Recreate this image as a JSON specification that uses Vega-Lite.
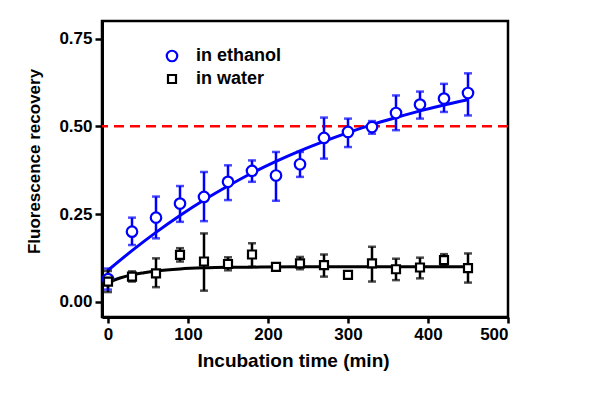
{
  "$schema": "https://vega.github.io/schema/vega-lite/v6.json",
  "width": 406,
  "height": 296,
  "autosize": {"type": "none"},
  "padding": {"left": 102, "top": 21, "right": 92, "bottom": 79},
  "background": "white",
  "config": {
    "font": "Liberation Sans",
    "view": {"stroke": "black", "strokeWidth": 2.5},
    "axis": {
      "domainColor": "black", "domainWidth": 3, "tickColor": "black", "tickWidth": 2.5,
      "grid": false, "labelFont": "Liberation Sans", "labelFontWeight": "bold", "labelFontSize": 17,
      "labelColor": "black", "titleFont": "Liberation Sans", "titleFontWeight": "bold",
      "titleFontSize": 17, "titleColor": "black"
    },
    "legend": {"labelFont": "Liberation Sans", "labelFontSize": 18, "labelFontWeight": "bold", "labelLimit": 300}
  },
  "datasets": {
    "pts": [
      {"series": "in ethanol", "t": 0, "y": 0.065, "lo": 0.035, "hi": 0.095},
      {"series": "in ethanol", "t": 30, "y": 0.200, "lo": 0.162, "hi": 0.240},
      {"series": "in ethanol", "t": 60, "y": 0.240, "lo": 0.181, "hi": 0.300},
      {"series": "in ethanol", "t": 90, "y": 0.280, "lo": 0.228, "hi": 0.330},
      {"series": "in ethanol", "t": 120, "y": 0.299, "lo": 0.230, "hi": 0.370},
      {"series": "in ethanol", "t": 150, "y": 0.342, "lo": 0.290, "hi": 0.389},
      {"series": "in ethanol", "t": 180, "y": 0.373, "lo": 0.342, "hi": 0.403},
      {"series": "in ethanol", "t": 210, "y": 0.360, "lo": 0.288, "hi": 0.427},
      {"series": "in ethanol", "t": 240, "y": 0.392, "lo": 0.356, "hi": 0.427},
      {"series": "in ethanol", "t": 270, "y": 0.467, "lo": 0.408, "hi": 0.525},
      {"series": "in ethanol", "t": 300, "y": 0.484, "lo": 0.441, "hi": 0.522},
      {"series": "in ethanol", "t": 330, "y": 0.498, "lo": 0.479, "hi": 0.515},
      {"series": "in ethanol", "t": 360, "y": 0.538, "lo": 0.489, "hi": 0.588},
      {"series": "in ethanol", "t": 390, "y": 0.562, "lo": 0.522, "hi": 0.599},
      {"series": "in ethanol", "t": 420, "y": 0.579, "lo": 0.541, "hi": 0.621},
      {"series": "in ethanol", "t": 450, "y": 0.595, "lo": 0.531, "hi": 0.651},
      {"series": "in water", "t": 0, "y": 0.058, "lo": 0.028, "hi": 0.088},
      {"series": "in water", "t": 30, "y": 0.072, "lo": 0.058, "hi": 0.087},
      {"series": "in water", "t": 60, "y": 0.081, "lo": 0.042, "hi": 0.124},
      {"series": "in water", "t": 90, "y": 0.134, "lo": 0.115, "hi": 0.153},
      {"series": "in water", "t": 120, "y": 0.115, "lo": 0.032, "hi": 0.195},
      {"series": "in water", "t": 150, "y": 0.108, "lo": 0.090, "hi": 0.127},
      {"series": "in water", "t": 180, "y": 0.135, "lo": 0.100, "hi": 0.167},
      {"series": "in water", "t": 210, "y": 0.100, "lo": 0.092, "hi": 0.108},
      {"series": "in water", "t": 240, "y": 0.110, "lo": 0.093, "hi": 0.128},
      {"series": "in water", "t": 270, "y": 0.105, "lo": 0.072, "hi": 0.135},
      {"series": "in water", "t": 300, "y": 0.077, "lo": 0.070, "hi": 0.084},
      {"series": "in water", "t": 330, "y": 0.110, "lo": 0.058, "hi": 0.157},
      {"series": "in water", "t": 360, "y": 0.093, "lo": 0.062, "hi": 0.123},
      {"series": "in water", "t": 390, "y": 0.098, "lo": 0.067, "hi": 0.126},
      {"series": "in water", "t": 420, "y": 0.119, "lo": 0.102, "hi": 0.136},
      {"series": "in water", "t": 450, "y": 0.096, "lo": 0.055, "hi": 0.138}
    ],
    "fit": [
      {"series": "in ethanol", "t": 0, "y": 0.090},
      {"series": "in ethanol", "t": 30, "y": 0.146},
      {"series": "in ethanol", "t": 60, "y": 0.198},
      {"series": "in ethanol", "t": 90, "y": 0.246},
      {"series": "in ethanol", "t": 120, "y": 0.290},
      {"series": "in ethanol", "t": 150, "y": 0.330},
      {"series": "in ethanol", "t": 180, "y": 0.367},
      {"series": "in ethanol", "t": 210, "y": 0.400},
      {"series": "in ethanol", "t": 240, "y": 0.430},
      {"series": "in ethanol", "t": 270, "y": 0.457},
      {"series": "in ethanol", "t": 300, "y": 0.482},
      {"series": "in ethanol", "t": 330, "y": 0.505},
      {"series": "in ethanol", "t": 360, "y": 0.525},
      {"series": "in ethanol", "t": 390, "y": 0.544},
      {"series": "in ethanol", "t": 420, "y": 0.561},
      {"series": "in ethanol", "t": 450, "y": 0.576},
      {"series": "in water", "t": 0, "y": 0.055},
      {"series": "in water", "t": 15, "y": 0.068},
      {"series": "in water", "t": 30, "y": 0.077},
      {"series": "in water", "t": 45, "y": 0.083},
      {"series": "in water", "t": 60, "y": 0.088},
      {"series": "in water", "t": 90, "y": 0.094},
      {"series": "in water", "t": 120, "y": 0.097},
      {"series": "in water", "t": 150, "y": 0.0985},
      {"series": "in water", "t": 180, "y": 0.099},
      {"series": "in water", "t": 240, "y": 0.0998},
      {"series": "in water", "t": 300, "y": 0.100},
      {"series": "in water", "t": 450, "y": 0.100}
    ],
    "ref": [{"y": 0.5}]
  },
  "layer": [
    {
      "data": {"name": "ref"},
      "mark": {"type": "rule", "color": "#ff0000", "strokeWidth": 2.5, "strokeDash": [10, 6]},
      "encoding": {
        "y": {"field": "y", "type": "quantitative", "scale": {"domain": [-0.043, 0.8], "nice": false, "zero": false},
          "axis": {"values": [0, 0.25, 0.5, 0.75], "format": ".2f", "tickSize": 7, "labelPadding": 3, "title": "Fluorescence recovery", "titlePadding": 15, "titleY": 140}}
      }
    },
    {
      "data": {"name": "fit"},
      "mark": {"type": "line", "strokeWidth": 3, "interpolate": "monotone"},
      "encoding": {
        "x": {"field": "t", "type": "quantitative", "scale": {"domain": [-7.5, 500], "nice": false, "zero": false},
          "axis": {"values": [0, 100, 200, 300, 400, 500], "tickSize": 6, "labelPadding": 3, "title": "Incubation time (min)", "titleFontSize": 19, "titlePadding": 9, "titleX": 191}},
        "y": {"field": "y", "type": "quantitative"},
        "detail": {"field": "series"},
        "stroke": {"condition": {"test": "datum.series === 'in ethanol'", "value": "#0000ff"}, "value": "#000000"}
      }
    },
    {
      "data": {"name": "pts"},
      "mark": {"type": "rule", "strokeWidth": 2.5},
      "encoding": {
        "x": {"field": "t", "type": "quantitative"},
        "y": {"field": "lo", "type": "quantitative"},
        "y2": {"field": "hi"},
        "stroke": {"condition": {"test": "datum.series === 'in ethanol'", "value": "#0000ff"}, "value": "#000000"}
      }
    },
    {
      "data": {"name": "pts"},
      "mark": {"type": "tick", "orient": "horizontal", "size": 8, "thickness": 2.5},
      "encoding": {
        "x": {"field": "t", "type": "quantitative"},
        "y": {"field": "lo", "type": "quantitative"},
        "fill": {"condition": {"test": "datum.series === 'in ethanol'", "value": "#0000ff"}, "value": "#000000"}
      }
    },
    {
      "data": {"name": "pts"},
      "mark": {"type": "tick", "orient": "horizontal", "size": 8, "thickness": 2.5},
      "encoding": {
        "x": {"field": "t", "type": "quantitative"},
        "y": {"field": "hi", "type": "quantitative"},
        "fill": {"condition": {"test": "datum.series === 'in ethanol'", "value": "#0000ff"}, "value": "#000000"}
      }
    },
    {
      "data": {"name": "pts"},
      "mark": {"type": "point", "filled": false, "fill": "white", "fillOpacity": 1, "strokeWidth": 2.2, "opacity": 1},
      "encoding": {
        "x": {"field": "t", "type": "quantitative"},
        "y": {"field": "y", "type": "quantitative"},
        "color": {"field": "series", "type": "nominal", "scale": {"domain": ["in ethanol", "in water"], "range": ["#0000ff", "#000000"]},
          "legend": {"orient": "none", "legendX": 61, "legendY": 26, "title": null, "padding": 0,
            "labelOffset": 15, "rowPadding": 4,
            "symbolStrokeWidth": 2.2, "symbolSize": 100,
            "encode": {"labels": {"update": {"fill": {"signal": "datum.label === 'in ethanol' ? '#0000ff' : '#000000'"}}}}}},
        "shape": {"field": "series", "type": "nominal", "scale": {"domain": ["in ethanol", "in water"], "range": ["circle", "square"]}},
        "size": {"field": "series", "type": "nominal", "scale": {"domain": ["in ethanol", "in water"], "range": [110, 64]}}
      }
    }
  ]
}
